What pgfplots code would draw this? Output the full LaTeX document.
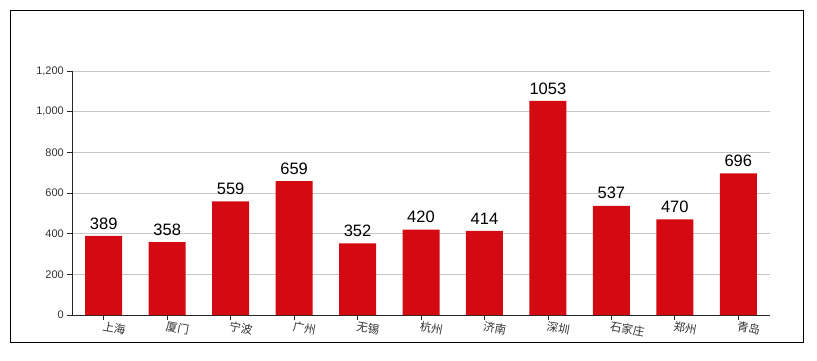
\documentclass[border=0pt]{standalone}
\usepackage{pgfplots}
\pgfplotsset{compat=1.18}
\usepackage{fontspec}
\setmainfont{Liberation Sans}
\newfontfamily\cjk{Noto Sans CJK SC}
\definecolor{barred}{RGB}{212,10,18}
\begin{document}
\begin{tikzpicture}[x=1pt,y=1pt]
\path[use as bounding box,fill=white] (0,0) rectangle (817,360);
\draw[black,line width=0.9pt] (10.5,18) rectangle (803,349.5);
\begin{axis}[
  at={(72pt,45pt)}, anchor=south west,
  scale only axis, width=698pt, height=244pt,
  xmin=-0.5, xmax=10.5, ymin=0, ymax=1200,
  ytick={0,200,...,1200},
  xtick={0,...,10},
  xticklabels={上海,厦门,宁波,广州,无锡,杭州,济南,深圳,石家庄,郑州,青岛},
  ymajorgrids, grid style={black!22, line width=0.6pt},
  axis x line*=bottom, axis y line*=left,
  axis line style={-, black!85, line width=0.7pt},
  tick align=outside, major tick length=5pt,
  tick style={black!85, line width=0.7pt},
  /pgf/number format/assume math mode=true,
  /pgf/number format/1000 sep={,},
  y tick label style={font=\fontsize{11}{11}\selectfont, text=black!80, inner sep=3pt},
  x tick label style={font=\cjk\fontsize{11.5}{11.5}\selectfont, text=black!80, rotate=-10, anchor=north west, inner sep=1pt, xshift=-1pt},
  ybar, bar width=37pt,
  nodes near coords,
  every node near coord/.append style={font=\fontsize{16.5}{16.5}\selectfont, text=black, inner sep=3pt, yshift=3.5pt},
]
\addplot[fill=barred, draw=none, nodes near coords={\pgfmathprintnumber[1000 sep={}]{\pgfplotspointmeta}}] coordinates {
(0,389) (1,358) (2,559) (3,659) (4,352) (5,420) (6,414) (7,1053) (8,537) (9,470) (10,696)
};
\end{axis}
\end{tikzpicture}
\end{document}
